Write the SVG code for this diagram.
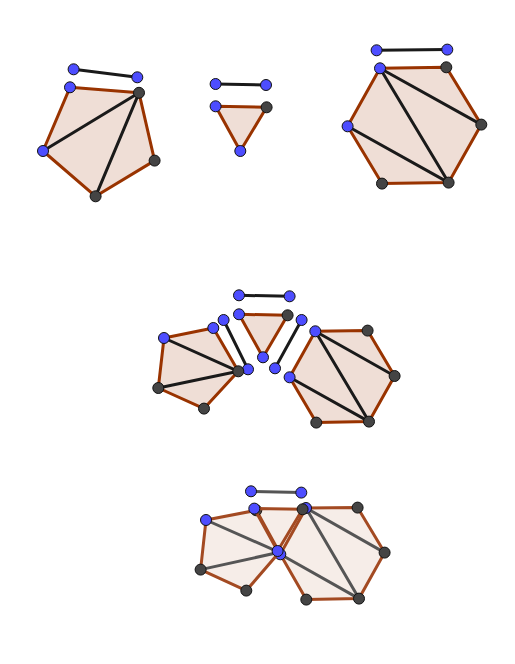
<svg xmlns="http://www.w3.org/2000/svg" width="515" height="664" viewBox="0 0 515 664">
<style>
.f{fill:#993300;fill-opacity:.16;stroke:#993300;stroke-width:3;stroke-linejoin:round}
.d{stroke:#1a1a1a;stroke-width:3;stroke-linecap:round;fill:none}
.lf{fill:#993300;fill-opacity:.09;stroke:#a34a22;stroke-width:3;stroke-linejoin:round}
.ld{stroke:#555;stroke-width:3;stroke-linecap:round;fill:none}
.b{fill:#4d4dff;stroke:#111;stroke-width:1}
.k{fill:#444;stroke:#111;stroke-width:1}
circle{r:5.5px}
</style>
<rect width="515" height="664" fill="#fff"/>
<g transform="translate(.3 .3)">
<g id="connectors">
<path class="d" d="M73.300 69L137 77M215.300 83.700L265.700 84.700M376.300 50L447 49.300M238.700 295L289.300 296M223.300 319.700L247.700 369M301.300 319.700L274.700 368"/>
<path class="ld" d="M250.700 491L301 492.300"/>
</g>
<g id="top-pentagon">
<polygon class="f" points="69.700,87 138.700,92.500 154.300,160.300 95.300,196 42.700,150.700"/>
<path class="d" d="M138.700 92.500L42.700 150.700M138.700 92.500L95.300 196"/>
<circle class="b" cx="73.300" cy="69" r="5.500"/><circle class="b" cx="137" cy="77" r="5.500"/>
<circle class="b" cx="69.700" cy="87" r="5.500"/><circle class="k" cx="138.700" cy="92.500" r="5.500"/><circle class="k" cx="154.300" cy="160.300" r="5.500"/><circle class="k" cx="95.300" cy="196" r="5.500"/><circle class="b" cx="42.700" cy="150.700" r="5.500"/>
</g>
<g id="top-triangle">
<polygon class="f" points="215.300,106 266.300,107 240,150.700"/>
<circle class="b" cx="215.300" cy="83.700" r="5.500"/><circle class="b" cx="265.700" cy="84.700" r="5.500"/>
<circle class="b" cx="215.300" cy="106" r="5.500"/><circle class="k" cx="266.300" cy="107" r="5.500"/><circle class="b" cx="240" cy="150.700" r="5.500"/>
</g>
<g id="top-hexagon">
<polygon class="f" points="379.700,68 446,67 481,124.300 448.300,182.300 381.700,183.300 347.300,126"/>
<path class="d" d="M379.700 68L481 124.300M379.700 68L448.300 182.300M347.300 126L448.300 182.300"/>
<circle class="b" cx="376.300" cy="50" r="5.500"/><circle class="b" cx="447" cy="49.300" r="5.500"/>
<circle class="b" cx="379.700" cy="68" r="5.500"/><circle class="k" cx="446" cy="67" r="5.500"/><circle class="k" cx="481" cy="124.300" r="5.500"/><circle class="k" cx="448.300" cy="182.300" r="5.500"/><circle class="k" cx="381.700" cy="183.300" r="5.500"/><circle class="b" cx="347.300" cy="126" r="5.500"/>
</g>
<g id="middle-pentagon">
<polygon class="f" points="163.700,337.700 213,327.700 238,371 203.700,408.300 158,387.700"/>
<path class="d" d="M238 371L163.700 337.700M238 371L158 387.700"/>
<circle class="b" cx="223.300" cy="319.700" r="5.500"/><circle class="b" cx="247.700" cy="369" r="5.500"/>
<circle class="b" cx="163.700" cy="337.700" r="5.500"/><circle class="b" cx="213" cy="327.700" r="5.500"/><circle class="k" cx="238" cy="371" r="5.500"/><circle class="k" cx="203.700" cy="408.300" r="5.500"/><circle class="k" cx="158" cy="387.700" r="5.500"/>
</g>
<g id="middle-triangle">
<polygon class="f" points="238.700,314 287.300,315 262.700,357"/>
<circle class="b" cx="238.700" cy="295" r="5.500"/><circle class="b" cx="289.300" cy="296" r="5.500"/>
<circle class="b" cx="238.700" cy="314" r="5.500"/><circle class="k" cx="287.300" cy="315" r="5.500"/><circle class="b" cx="262.700" cy="357" r="5.500"/>
</g>
<g id="middle-hexagon">
<polygon class="f" points="315,331 367.300,330.300 394.300,375.700 368.700,421.300 316,422.300 289.300,377"/>
<path class="d" d="M315 331L394.300 375.700M315 331L368.700 421.300M289.300 377L368.700 421.300"/>
<circle class="b" cx="301.300" cy="319.700" r="5.500"/><circle class="b" cx="274.700" cy="368" r="5.500"/>
<circle class="b" cx="315" cy="331" r="5.500"/><circle class="k" cx="367.300" cy="330.300" r="5.500"/><circle class="k" cx="394.300" cy="375.700" r="5.500"/><circle class="k" cx="368.700" cy="421.300" r="5.500"/><circle class="k" cx="316" cy="422.300" r="5.500"/><circle class="b" cx="289.300" cy="377" r="5.500"/>
</g>
<g id="bottom-hexagon">
<polygon class="lf" points="305.700,507.700 357.300,507.300 384.300,552.300 358.700,598.300 306,599.300 280,554"/>
<path class="ld" d="M305.700 507.700L384.300 552.300M305.700 507.700L358.700 598.300M280 554L358.700 598.300"/>
<circle class="b" cx="305.700" cy="507.700" r="5.500"/><circle class="k" cx="357.300" cy="507.300" r="5.500"/><circle class="k" cx="384.300" cy="552.300" r="5.500"/><circle class="k" cx="358.700" cy="598.300" r="5.500"/><circle class="k" cx="306" cy="599.300" r="5.500"/><circle class="b" cx="280" cy="554" r="5.500"/>
</g>
<g id="bottom-pentagon">
<polygon class="lf" points="205.700,519.700 256,510 279,552 246,590.300 200.300,569.300"/>
<path class="ld" d="M279 552L205.700 519.700M279 552L200.300 569.300"/>
<circle class="k" cx="256" cy="510" r="5.500"/><circle class="b" cx="205.700" cy="519.700" r="5.500"/><circle class="k" cx="246" cy="590.300" r="5.500"/><circle class="k" cx="200.300" cy="569.300" r="5.500"/>
</g>
<g id="bottom-triangle">
<polygon class="lf" points="254,508.300 302.300,509 277.300,550.700"/>
<circle class="b" cx="250.700" cy="491" r="5.500"/><circle class="b" cx="301" cy="492.300" r="5.500"/>
<circle class="b" cx="254" cy="508.300" r="5.500"/><circle class="k" cx="302.300" cy="509" r="5.500"/><circle class="b" cx="277.300" cy="550.700" r="5.500"/>
</g>
</g>
</svg>
